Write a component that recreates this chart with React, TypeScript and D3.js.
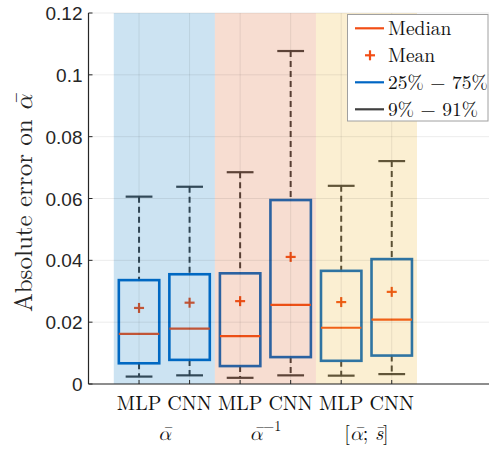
import React from "react";
import * as d3 from "d3";

const categories = ["MLP", "CNN", "MLP", "CNN", "MLP", "CNN"];
const groupLabels = ["ᾱ", "ᾱ⁻¹", "[ᾱ; s̄]"];
const whiskerLow = [0.0024, 0.0028, 0.002, 0.0028, 0.0027, 0.0032];
const q1 = [0.0067, 0.0078, 0.0058, 0.0087, 0.0075, 0.0092];
const median = [0.0162, 0.0179, 0.0155, 0.0256, 0.0182, 0.0208];
const q3 = [0.0336, 0.0355, 0.0358, 0.0595, 0.0366, 0.0404];
const whiskerHigh = [0.0606, 0.0638, 0.0685, 0.1077, 0.0641, 0.0721];
const mean = [0.0246, 0.0263, 0.0268, 0.0411, 0.0265, 0.0298];
const yTicks = [0, 0.02, 0.04, 0.06, 0.08, 0.1, 0.12];
const yTickLabels = ["0", "0.02", "0.04", "0.06", "0.08", "0.1", "0.12"];
const legendItems = ["Median", "Mean", "25% − 75%", "9% − 91%"];

const W = 489;
const H = 449;
const BLUE = "#0066c4";
const ORANGE = "#f24e16";
const GRAYW = "#3f3f3f";
const bandColors = ["#0072BD", "#D95319", "#EDB120"];

const serif = "'Latin Modern Roman', 'Latin Modern Math', serif";
const sans = "'Liberation Sans', Arial, sans-serif";

export default function App() {
  const x = d3.scaleLinear().domain([0, 8]).range([88.5, 88.5 + 8 * 50.54]);
  const y = d3.scaleLinear().domain([0, 0.12]).range([384, 13]);
  const boxW = x(0.8) - x(0);
  const capW = x(0.53) - x(0);

  const alpha = (key: string) => (
    <tspan key={key} fontStyle="italic">{"α\u0304"}</tspan>
  );

  return (
    <svg
      width={W}
      height={H}
      style={{ position: "absolute", left: 0, top: 0, background: "#fff" }}
    >
      {categories.map((c, i) => {
        const cx = x(i + 1);
        return (
          <g key={"b" + i}>
            <line x1={cx} x2={cx} y1={y(whiskerHigh[i])} y2={y(q3[i])} stroke={GRAYW} strokeWidth={2} strokeDasharray="6,4" />
            <line x1={cx} x2={cx} y1={y(q1[i])} y2={y(whiskerLow[i])} stroke={GRAYW} strokeWidth={2} strokeDasharray="6,4" />
            <line x1={cx - capW / 2} x2={cx + capW / 2} y1={y(whiskerHigh[i])} y2={y(whiskerHigh[i])} stroke={GRAYW} strokeWidth={2.2} />
            <line x1={cx - capW / 2} x2={cx + capW / 2} y1={y(whiskerLow[i])} y2={y(whiskerLow[i])} stroke={GRAYW} strokeWidth={2.2} />
            <rect x={cx - boxW / 2} y={y(q3[i])} width={boxW} height={y(q1[i]) - y(q3[i])} fill="none" stroke={BLUE} strokeWidth={2.6} />
            <line x1={cx - boxW / 2} x2={cx + boxW / 2} y1={y(median[i])} y2={y(median[i])} stroke={ORANGE} strokeWidth={2.2} />
            <line x1={cx - 5} x2={cx + 5} y1={y(mean[i])} y2={y(mean[i])} stroke={ORANGE} strokeWidth={2.2} />
            <line x1={cx} x2={cx} y1={y(mean[i]) - 5} y2={y(mean[i]) + 5} stroke={ORANGE} strokeWidth={2.2} />
          </g>
        );
      })}

      {bandColors.map((col, k) => (
        <rect
          key={"band" + k}
          x={x(0.5 + 2 * k)}
          y={y(0.12)}
          width={x(2) - x(0)}
          height={y(0) - y(0.12)}
          fill={col}
          fillOpacity={0.2}
        />
      ))}

      {yTicks.map((t, i) => (
        <line key={"gy" + i} x1={x(0)} x2={W} y1={y(t)} y2={y(t)} stroke="#000" strokeOpacity={0.08} strokeWidth={1} />
      ))}
      {categories.map((c, i) => (
        <line key={"gx" + i} x1={x(i + 1)} x2={x(i + 1)} y1={y(0.12)} y2={y(0)} stroke="#000" strokeOpacity={0.08} strokeWidth={1} />
      ))}

      <line x1={x(0)} x2={W} y1={y(0)} y2={y(0)} stroke="#262626" strokeWidth={1.2} />
      <line x1={x(0)} x2={x(0)} y1={y(0.12)} y2={y(0)} stroke="#262626" strokeWidth={1.2} />
      {yTicks.map((t, i) => (
        <g key={"yt" + i}>
          <line x1={x(0)} x2={x(0) + 4} y1={y(t)} y2={y(t)} stroke="#262626" strokeWidth={1} />
          <text x={x(0) - 6} y={y(t) + 7} textAnchor="end" fontFamily={sans} fontSize={19} fill="#262626">
            {yTickLabels[i]}
          </text>
        </g>
      ))}
      {categories.map((c, i) => (
        <g key={"xt" + i}>
          <line x1={x(i + 1)} x2={x(i + 1)} y1={y(0)} y2={y(0) - 4} stroke="#262626" strokeWidth={1} />
          <text x={x(i + 1)} y={410} textAnchor="middle" fontFamily={serif} fontSize={20} fill="#111">
            {c}
          </text>
        </g>
      ))}
      {groupLabels.map((g, k) => (
        <text key={"gl" + k} x={x(1.5 + 2 * k)} y={440} textAnchor="middle" fontFamily={serif} fontSize={20} fill="#111">
          {k === 0 && alpha("a0")}
          {k === 1 && (
            <>
              {alpha("a1")}
              <tspan fontSize={14} dx={1} dy={-9}>−1</tspan>
            </>
          )}
          {k === 2 && (
            <>
              <tspan>[</tspan>
              {alpha("a2")}
              <tspan>; </tspan>
              <tspan fontStyle="italic">{"s\u0304"}</tspan>
              <tspan>]</tspan>
            </>
          )}
        </text>
      ))}

      <text
        transform={`translate(32,${(y(0) + y(0.12)) / 2 + 5}) rotate(-90)`}
        textAnchor="middle"
        fontFamily={serif}
        fontSize={25}
        fill="#262626"
      >
        Absolute error on {alpha("ya")}
      </text>

      <rect x={347.5} y={14.5} width={140.5} height={106.5} fill="#fff" stroke="#a0a0a0" strokeWidth={1} />
      {legendItems.map((l, i) => {
        const ly = 28.3 + i * 27;
        return (
          <g key={"lg" + i}>
            {i === 1 ? (
              <g>
                <line x1={365} x2={375} y1={ly} y2={ly} stroke={ORANGE} strokeWidth={2.2} />
                <line x1={370} x2={370} y1={ly - 5} y2={ly + 5} stroke={ORANGE} strokeWidth={2.2} />
              </g>
            ) : (
              <line x1={355} x2={384} y1={ly} y2={ly} stroke={i === 0 ? ORANGE : i === 2 ? BLUE : "#404040"} strokeWidth={2.2} />
            )}
            <text x={388} y={ly + 6.5} fontFamily={serif} fontSize={19.5} fill="#111">
              {l}
            </text>
          </g>
        );
      })}
    </svg>
  );
}
